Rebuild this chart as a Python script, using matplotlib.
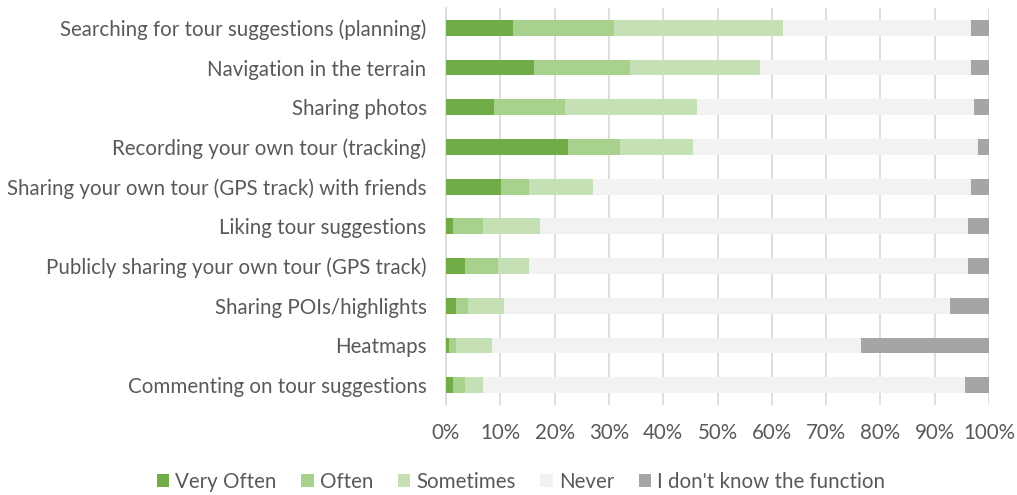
import matplotlib
matplotlib.use("Agg")
import matplotlib.pyplot as plt
import numpy as np

plt.rcParams['font.family'] = ['Lato', 'DejaVu Sans']

categories = [
    "Searching for tour suggestions (planning)",
    "Navigation in the terrain",
    "Sharing photos",
    "Recording your own tour (tracking)",
    "Sharing your own tour (GPS track) with friends",
    "Liking tour suggestions",
    "Publicly sharing your own tour (GPS track)",
    "Sharing POIs/highlights",
    "Heatmaps",
    "Commenting on tour suggestions",
]

very_often = [12.4, 16.2, 8.9, 22.5, 10.2, 1.2, 3.5, 1.8, 0.6, 1.2]
often = [18.6, 17.6, 13.0, 9.6, 5.0, 5.6, 6.1, 2.2, 1.2, 2.3]
sometimes = [31.0, 24.1, 24.3, 13.4, 11.9, 10.5, 5.6, 6.6, 6.7, 3.3]
never = [34.6, 38.7, 51.0, 52.4, 69.5, 78.9, 81.0, 82.2, 68.0, 88.7]
dont_know = [3.4, 3.4, 2.8, 2.1, 3.4, 3.8, 3.8, 7.2, 23.5, 4.5]

series = [
    ("Very Often", very_often, "#70ad47"),
    ("Often", often, "#a9d18e"),
    ("Sometimes", sometimes, "#c5e0b4"),
    ("Never", never, "#f2f2f2"),
    ("I don't know the function", dont_know, "#a5a5a5"),
]

fig = plt.figure(figsize=(10.17, 4.95), dpi=100)
ax = fig.add_axes([446 / 1017, 1 - 405 / 495, 543 / 1017, 397 / 495])

y = np.arange(len(categories))
left = np.zeros(len(categories))
handles = []
for name, vals, color in series:
    vals = np.array(vals)
    h = ax.barh(y, vals, left=left, height=0.4, color=color, label=name, zorder=3)
    handles.append(h)
    left += vals

ax.set_xlim(0, 100)
ax.set_ylim(len(categories) - 0.5, -0.5)
ax.set_yticks(y)
ax.set_yticklabels(categories)
ax.set_xticks(np.arange(0, 101, 10))
ax.set_xticklabels([f"{v}%" for v in range(0, 101, 10)])

ax.xaxis.grid(True, color="#d9d9d9", linewidth=1.2, zorder=0)
ax.set_axisbelow(True)
for s in ["top", "right", "bottom"]:
    ax.spines[s].set_visible(False)
ax.spines["left"].set_color("#d9d9d9")
ax.spines["left"].set_linewidth(1.2)
ax.tick_params(axis="both", length=0, labelsize=14.8, labelcolor="#595959")
ax.tick_params(axis="x", pad=13)
ax.tick_params(axis="y", pad=14)

fig.legend(handles=handles, loc="center", bbox_to_anchor=(521 / 1017, 1 - 482 / 495),
           ncol=5, frameon=False, fontsize=14.8, labelcolor="#595959",
           handlelength=0.6, handleheight=0.6, handletextpad=0.3, columnspacing=1.2)

fig.savefig("out.png", dpi=100)
